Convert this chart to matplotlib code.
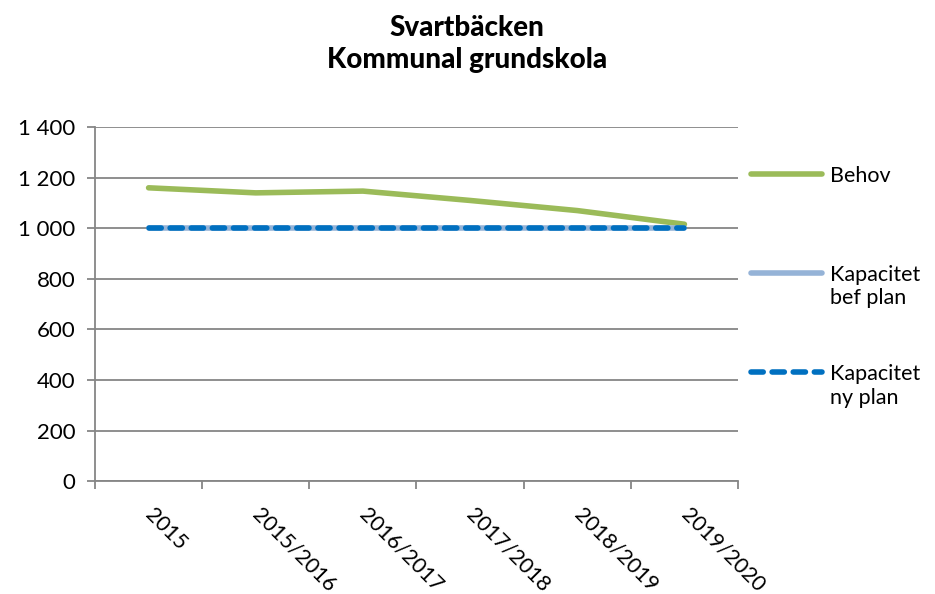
import numpy as np
import matplotlib
import matplotlib.pyplot as plt
from matplotlib.ticker import FixedLocator, FuncFormatter
from matplotlib.legend_handler import HandlerLine2D

matplotlib.use("Agg")

plt.rcParams["font.family"] = ["Lato", "DejaVu Sans"]

years = ["2015", "2015/2016", "2016/2017", "2017/2018", "2018/2019", "2019/2020"]
behov = [1160, 1140, 1147, 1110, 1070, 1016]
kap_bef = [1000, 1000, 1000, 1000, 1000, 1000]
kap_ny = [1000, 1000, 1000, 1000, 1000, 1000]

GREEN = "#9BBB59"
LIGHTBLUE = "#95B3D7"
BLUE = "#0070C0"
GRID = "#868686"


class TopLineHandler(HandlerLine2D):
    # puts the legend key next to the first line of a two-line label
    def __init__(self, shift=0, **kw):
        super().__init__(**kw)
        self.shift = shift

    def adjust_drawing_area(self, legend, orig_handle, xdescent, ydescent,
                            width, height, fontsize):
        xd, yd, w, h = super().adjust_drawing_area(
            legend, orig_handle, xdescent, ydescent, width, height, fontsize)
        return xd, yd - 2 * self.shift, w, h


fig = plt.figure(figsize=(9.35, 5.94), dpi=100)
ax = fig.add_axes([0.1016, 0.190, 0.6877, 0.596])

x = np.arange(len(years))
# "Behov" gets an empty second line so all legend entries have equal height
l1, = ax.plot(x, behov, color=GREEN, lw=4, solid_capstyle="round",
              label="Behov\n ", zorder=3)
l2, = ax.plot(x, kap_bef, color=LIGHTBLUE, lw=4, solid_capstyle="round",
              label="Kapacitet\nbef plan", zorder=3)
l3, = ax.plot(x, kap_ny, color=BLUE, lw=4, ls=(0, (2.2, 1.6)), dash_capstyle="round",
              label="Kapacitet\nny plan", zorder=4)

ax.set_xlim(-0.5, len(years) - 0.5)
ax.set_ylim(0, 1400)
ax.yaxis.set_major_locator(FixedLocator(np.arange(0, 1401, 200)))
ax.yaxis.set_major_formatter(FuncFormatter(lambda v, p: f"{int(v):,}".replace(",", " ")))
ax.grid(axis="y", color=GRID, lw=1.3)
ax.set_axisbelow(True)

for s in ["top", "right"]:
    ax.spines[s].set_visible(False)
for s in ["left", "bottom"]:
    ax.spines[s].set_color(GRID)
    ax.spines[s].set_linewidth(1.3)

# category labels at centres, tick marks on boundaries
ax.set_xticks(x)
ax.set_xticklabels(years, rotation=-45, ha="left", va="center",
                   rotation_mode="anchor", fontsize=15.5)
ax.tick_params(axis="x", which="major", length=0, pad=22)
ax.set_xticks(np.arange(-0.5, len(years), 1), minor=True)
ax.tick_params(axis="x", which="minor", length=6, color=GRID, width=1.3)
ax.tick_params(axis="y", length=6, color=GRID, width=1.3, labelsize=16, pad=8)

fig.suptitle("Svartbäcken\nKommunal grundskola", x=0.499, y=0.975,
             fontsize=20, fontweight="black", linespacing=1.3)

hm = {h: TopLineHandler(shift=10) for h in (l1, l2, l3)}
ax.legend(handles=[l1, l2, l3], loc="upper left", bbox_to_anchor=(0.99, 0.945),
          frameon=False, fontsize=15.5, handlelength=3.3, handletextpad=0.35,
          labelspacing=2.6, handler_map=hm)

fig.savefig("out.png", dpi=100)
